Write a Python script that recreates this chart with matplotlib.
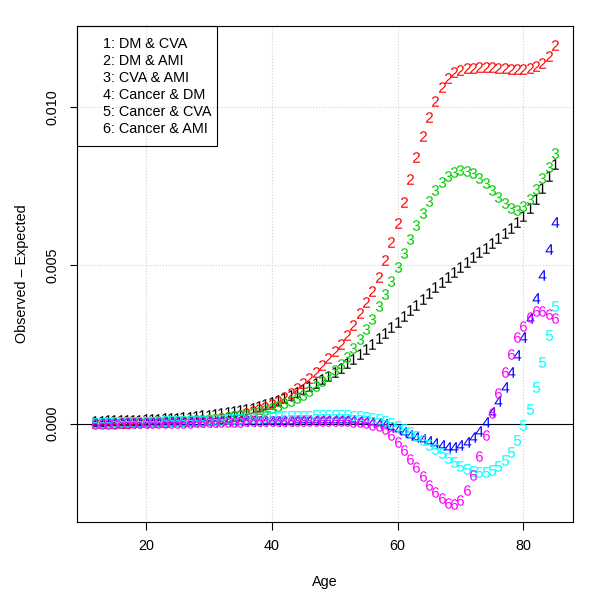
import numpy as np
import matplotlib.pyplot as plt
from matplotlib.patches import Rectangle

plt.rcParams['font.family'] = ['Liberation Sans', 'DejaVu Sans']

ages = np.arange(12, 86)

# observed - expected, in units of 1e-3
dm_cva = [0.10, 0.10, 0.11, 0.11, 0.12, 0.12, 0.13, 0.13, 0.14, 0.15,
          0.16, 0.17, 0.18, 0.19, 0.20, 0.22, 0.24, 0.26, 0.28, 0.30,
          0.33, 0.36, 0.39, 0.43, 0.47, 0.51, 0.56, 0.61, 0.67, 0.74,
          0.82, 0.90, 0.99, 1.08, 1.18, 1.29, 1.40, 1.52, 1.64, 1.77,
          1.91, 2.05, 2.20, 2.36, 2.52, 2.69, 2.86, 3.04, 3.22, 3.40,
          3.58, 3.76, 3.94, 4.12, 4.30, 4.47, 4.64, 4.80, 4.96, 5.11,
          5.26, 5.41, 5.56, 5.71, 5.86, 6.02, 6.18, 6.36, 6.56, 6.80,
          7.10, 7.45, 7.82, 8.20]
dm_ami = [0.02, 0.02, 0.02, 0.03, 0.03, 0.03, 0.04, 0.04, 0.05, 0.05,
          0.06, 0.06, 0.07, 0.08, 0.09, 0.10, 0.11, 0.12, 0.13, 0.15,
          0.17, 0.20, 0.24, 0.28, 0.33, 0.39, 0.45, 0.53, 0.62, 0.73,
          0.85, 0.98, 1.12, 1.27, 1.44, 1.63, 1.84, 2.07, 2.30, 2.52,
          2.80, 3.12, 3.48, 3.83, 4.20, 4.64, 5.17, 5.75, 6.35, 7.00,
          7.72, 8.42, 9.08, 9.69, 10.20, 10.62, 10.92, 11.10, 11.18, 11.22,
          11.24, 11.25, 11.25, 11.25, 11.24, 11.23, 11.21, 11.20, 11.20, 11.22,
          11.28, 11.40, 11.62, 11.95]
cva_ami = [0.02, 0.02, 0.03, 0.03, 0.03, 0.04, 0.04, 0.05, 0.05, 0.06,
           0.07, 0.07, 0.08, 0.09, 0.10, 0.11, 0.12, 0.13, 0.15, 0.16,
           0.18, 0.20, 0.23, 0.26, 0.29, 0.33, 0.38, 0.43, 0.50, 0.57,
           0.64, 0.72, 0.81, 0.92, 1.04, 1.18, 1.34, 1.52, 1.70, 1.90,
           2.12, 2.38, 2.66, 2.98, 3.32, 3.70, 4.08, 4.50, 4.94, 5.38,
           5.84, 6.26, 6.65, 7.04, 7.38, 7.64, 7.82, 7.96, 8.02, 7.99,
           7.90, 7.76, 7.59, 7.38, 7.17, 6.98, 6.80, 6.74, 6.88, 7.10,
           7.42, 7.75, 8.11, 8.54]
cancer_dm = [0.02, 0.02, 0.02, 0.02, 0.03, 0.03, 0.03, 0.03, 0.03, 0.04,
             0.04, 0.04, 0.04, 0.05, 0.05, 0.05, 0.05, 0.06, 0.06, 0.06,
             0.07, 0.07, 0.07, 0.08, 0.08, 0.08, 0.09, 0.09, 0.09, 0.10,
             0.10, 0.10, 0.11, 0.11, 0.11, 0.12, 0.12, 0.12, 0.12, 0.12,
             0.12, 0.11, 0.10, 0.08, 0.05, 0.02, -0.02, -0.09, -0.18, -0.27,
             -0.35, -0.42, -0.48, -0.55, -0.62, -0.68, -0.72, -0.73, -0.68, -0.58,
             -0.43, -0.22, 0.05, 0.36, 0.73, 1.15, 1.62, 2.18, 2.75, 3.33,
             3.96, 4.70, 5.50, 6.38]
cancer_cva = [0.03, 0.03, 0.03, 0.04, 0.04, 0.04, 0.05, 0.05, 0.05, 0.06,
              0.06, 0.07, 0.07, 0.08, 0.08, 0.09, 0.10, 0.10, 0.11, 0.12,
              0.13, 0.14, 0.15, 0.16, 0.17, 0.18, 0.19, 0.20, 0.21, 0.22,
              0.23, 0.24, 0.24, 0.25, 0.25, 0.26, 0.26, 0.26, 0.26, 0.26,
              0.26, 0.25, 0.24, 0.22, 0.19, 0.15, 0.09, 0.02, -0.06, -0.16,
              -0.27, -0.39, -0.52, -0.66, -0.80, -0.94, -1.08, -1.21, -1.32, -1.42,
              -1.48, -1.52, -1.52, -1.45, -1.33, -1.15, -0.88, -0.50, -0.05, 0.45,
              1.15, 1.95, 2.80, 3.72]
cancer_ami = [0.00, 0.00, 0.00, 0.00, 0.01, 0.01, 0.01, 0.01, 0.01, 0.02,
              0.02, 0.02, 0.02, 0.03, 0.03, 0.03, 0.04, 0.04, 0.04, 0.05,
              0.05, 0.05, 0.06, 0.06, 0.07, 0.07, 0.07, 0.08, 0.08, 0.08,
              0.09, 0.09, 0.09, 0.10, 0.10, 0.10, 0.10, 0.10, 0.10, 0.09,
              0.08, 0.06, 0.05, 0.02, -0.03, -0.08, -0.18, -0.36, -0.58, -0.84,
              -1.10, -1.38, -1.66, -1.92, -2.16, -2.36, -2.50, -2.52, -2.40, -2.10,
              -1.62, -1.02, -0.36, 0.33, 0.98, 1.62, 2.20, 2.75, 3.08, 3.38,
              3.55, 3.55, 3.45, 3.33]

labels = ['1: DM & CVA', '2: DM & AMI', '3: CVA & AMI',
          '4: Cancer & DM', '5: Cancer & CVA', '6: Cancer & AMI']
colors = ['black', 'red', '#00CD00', 'blue', 'cyan', 'magenta']
series = [dm_cva, dm_ami, cva_ami, cancer_dm, cancer_cva, cancer_ami]

fs = 10.4

fig = plt.figure(figsize=(6, 6), dpi=100)
ax = fig.add_axes([0.1283, 0.13, 0.8272, 0.8267])

for i, (vals, col) in enumerate(zip(series, colors)):
    ax.plot(ages, np.array(vals) * 1e-3, ls='none',
            marker=r'$\mathregular{%d}$' % (i + 1), ms=7.6, mew=0,
            color=col, zorder=3 + i)

ax.axhline(0, color='black', lw=0.8, zorder=2)

ax.set_xlim(9.08, 87.92)
ax.set_ylim(-0.003103, 0.012555)
ax.set_xticks([20, 40, 60, 80])
ax.set_yticks([0.0, 0.005, 0.010])
ax.set_yticklabels(['0.000', '0.005', '0.010'], rotation=90, va='center')
ax.grid(True, ls=':', color='lightgray', lw=0.8, zorder=0)

for s in ax.spines.values():
    s.set_linewidth(0.8)
ax.tick_params(length=5.4, width=0.8, labelsize=fs, pad=7)

ax.set_xlabel('Age', fontsize=fs, labelpad=16)
ax.set_ylabel('Observed \u2013 Expected', fontsize=fs, labelpad=12)

# legend box in the top left corner, text only
ax.add_patch(Rectangle((0, 0.758), 0.2815, 0.242, transform=ax.transAxes,
                       fill=False, edgecolor='black', lw=0.8, zorder=10,
                       clip_on=False))
for i, lab in enumerate(labels):
    ax.text(0.0518, 0.9637 - i * 0.0341, lab, transform=ax.transAxes,
            fontsize=fs, va='center', ha='left', zorder=11)

fig.savefig('out.png', dpi=100)
